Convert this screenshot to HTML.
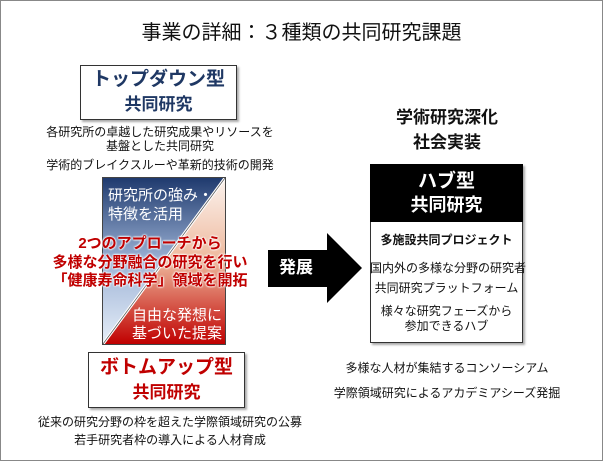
<!DOCTYPE html>
<html><head><meta charset="utf-8"><style>
*{margin:0;padding:0;box-sizing:border-box}
body{width:603px;height:461px;background:#fff;position:relative;overflow:hidden;font-family:"Liberation Sans","Noto Sans CJK JP",sans-serif;color:#111}
.frame{position:absolute;left:0;top:0;width:603px;height:461px;border:1px solid #888}
.a{position:absolute;white-space:nowrap}
.c{text-align:center}
.box{position:absolute;border:1px solid #333;background:#fff;box-shadow:2px 2px 2px #aaa}
.s{font-size:12px;line-height:14px}
.red{color:#c00000;font-weight:bold;font-size:15px;line-height:19px;text-shadow:0 0 2px #fff,0 0 2px #fff,0 0 2px #fff}
.wt{color:#fff;font-size:15px;line-height:19px}
</style></head><body>
<div class="frame"></div>
<div class="a c" style="left:0;width:603px;top:20px;font-size:20px;line-height:26px">事業の詳細：３種類の共同研究課題</div>

<div class="box" style="left:80px;top:65px;width:157px;height:55px"></div>
<div class="a c" style="left:80px;width:157px;top:67px;color:#1f3864;font-weight:bold;font-size:19px;line-height:25px">トップダウン型</div>
<div class="a c" style="left:80px;width:157px;top:93px;color:#1f3864;font-weight:bold;font-size:17px;line-height:24px">共同研究</div>
<div class="a c s" style="left:30px;width:260px;top:125px">各研究所の卓越した研究成果やリソースを</div>
<div class="a c s" style="left:30px;width:260px;top:139px">基盤とした共同研究</div>
<div class="a c s" style="left:30px;width:260px;top:158px">学術的ブレイクスルーや革新的技術の開発</div>

<svg class="a" style="left:102px;top:177px" width="124" height="168">
<defs>
<linearGradient id="b" x1="0" y1="0" x2="0" y2="1"><stop offset="0" stop-color="#1f3a6e"/><stop offset="0.5" stop-color="#9db3d6"/><stop offset="1" stop-color="#e6eef8"/></linearGradient>
<linearGradient id="r" x1="0" y1="0" x2="0" y2="1"><stop offset="0" stop-color="#fbf3ee"/><stop offset="0.5" stop-color="#eeb89c"/><stop offset="1" stop-color="#c00000"/></linearGradient>
</defs>
<polygon points="1,1 123,1 1,167" fill="url(#b)"/>
<polygon points="123,1 123,167 1,167" fill="url(#r)"/>
<line x1="1" y1="167" x2="123" y2="1" stroke="#fff" stroke-width="3"/>
<line x1="1" y1="167" x2="123" y2="1" stroke="#555" stroke-width="0.7"/>
<rect x="0.5" y="0.5" width="123" height="167" fill="none" stroke="#444"/>
</svg>
<div class="a wt" style="left:108px;top:186px">研究所の強み・</div>
<div class="a wt" style="left:108px;top:205px">特徴を活用</div>
<div class="a wt" style="left:130px;top:306px;width:92px;text-align:right">自由な発想に</div>
<div class="a wt" style="left:130px;top:324px;width:92px;text-align:right">基づいた提案</div>
<div class="a c red" style="left:40px;width:220px;top:234px">2つのアプローチから</div>
<div class="a c red" style="left:40px;width:220px;top:253px">多様な分野融合の研究を行い</div>
<div class="a c red" style="left:40px;width:220px;top:271px">「健康寿命科学」領域を開拓</div>

<div class="box" style="left:88px;top:352px;width:157px;height:56px"></div>
<div class="a c" style="left:88px;width:157px;top:355px;color:#c00000;font-weight:bold;font-size:19px;line-height:25px">ボトムアップ型</div>
<div class="a c" style="left:88px;width:157px;top:381px;color:#c00000;font-weight:bold;font-size:17px;line-height:24px">共同研究</div>
<div class="a c s" style="left:20px;width:300px;top:415px">従来の研究分野の枠を超えた学際領域研究の公募</div>
<div class="a c s" style="left:20px;width:300px;top:433px">若手研究者枠の導入による人材育成</div>

<svg class="a" style="left:266px;top:232px" width="100" height="74"><polygon points="2,18 61,18 61,1 96,36 61,71 61,55 2,55" fill="#000"/></svg>
<div class="a" style="left:279px;top:257px;color:#fff;font-weight:bold;font-size:17px;line-height:22px">発展</div>

<div class="a c" style="left:370px;width:154px;top:106px;font-weight:bold;font-size:17px;line-height:24px">学術研究深化</div>
<div class="a c" style="left:370px;width:154px;top:131px;font-weight:bold;font-size:17px;line-height:24px">社会実装</div>
<div class="box" style="left:370px;top:164px;width:153px;height:179px"></div>
<div class="a" style="left:370px;top:164px;width:153px;height:58px;background:#000"></div>
<div class="a c" style="left:370px;width:153px;top:169px;color:#fff;font-weight:bold;font-size:19px;line-height:25px">ハブ型</div>
<div class="a c" style="left:370px;width:153px;top:193px;color:#fff;font-weight:bold;font-size:18px;line-height:24px">共同研究</div>
<div class="a c s" style="left:370px;width:153px;top:233px;font-weight:bold">多施設共同プロジェクト</div>
<div class="a c s" style="left:370px;width:153px;top:261px">国内外の多様な分野の研究者</div>
<div class="a c s" style="left:370px;width:153px;top:281px">共同研究プラットフォーム</div>
<div class="a c s" style="left:370px;width:153px;top:304px">様々な研究フェーズから</div>
<div class="a c s" style="left:370px;width:153px;top:319px">参加できるハブ</div>
<div class="a c s" style="left:320px;width:254px;top:361px">多様な人材が集結するコンソーシアム</div>
<div class="a c s" style="left:320px;width:254px;top:386px">学際領域研究によるアカデミアシーズ発掘</div>
</body></html>
